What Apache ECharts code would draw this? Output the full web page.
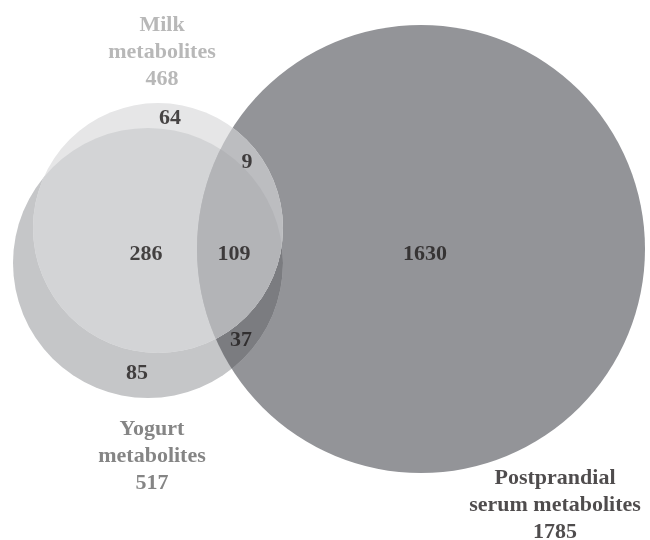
<!DOCTYPE html>
<html><head><meta charset="utf-8">
<script src="https://cdn.jsdelivr.net/npm/echarts@6/dist/echarts.min.js"></script>
<style>html,body{margin:0;padding:0;background:#fff}#c{width:650px;height:540px}</style>
</head><body><div id="c"></div>
<script>
// ---- data ----
const setNames = ['Milk metabolites', 'Yogurt metabolites', 'Postprandial serum metabolites'];
const setLabelLines = [['Milk', 'metabolites'], ['Yogurt', 'metabolites'], ['Postprandial', 'serum metabolites']];
const setTotals = [468, 517, 1785];
// regions (index into sets: 0 milk, 1 yogurt, 2 serum), drawn in this order
const regionMembers = [[2], [1], [1, 2], [0], [0, 1], [0, 2], [0, 1, 2]];
const regionCounts = [1630, 85, 37, 64, 286, 9, 109];

// ---- layout (data units of the hidden axes) ----
const circleX = [158, 148, 421];
const circleY = [228, 263, 249];
const circleR = [125, 135, 224];
const regionLabelX = [425, 137, 241, 170, 146, 247, 234];
const regionLabelY = [254, 373, 340, 118, 254, 162, 254];
const setLabelX = [162, 152, 555];
const setLabelY = [52, 456, 505];

// ---- style ----
const regionColors = ['#939498', '#c5c6c8', '#7b7c80', '#e6e6e7', '#d3d4d6', '#bcbdc0', '#b3b4b7'];
const setLabelColors = ['#a6a6a6', '#666666', '#231f20'];
const FONT = '"Liberation Serif", "Times New Roman", serif';

const chart = echarts.init(document.getElementById('c'), null, {renderer: 'canvas'});

function circleShape(api, k) {
  const c = api.coord([circleX[k], circleY[k]]);
  const r = api.size([circleR[k], 0])[0];
  return {type: 'circle', shape: {cx: c[0], cy: c[1], r: r}};
}

chart.setOption({
  animation: false,
  grid: {left: 0, right: 0, top: 0, bottom: 0},
  xAxis: {type: 'value', min: 0, max: 650, show: false},
  yAxis: {type: 'value', min: 0, max: 540, inverse: true, show: false},
  series: [
    {
      type: 'custom',
      silent: true,
      clip: false,
      data: regionMembers.map((m, i) => [circleX[m[0]], circleY[m[0]], regionCounts[i]]),
      encode: {x: 0, y: 1},
      renderItem: function (params, api) {
        const i = params.dataIndex;
        const mem = regionMembers[i];
        let el = circleShape(api, mem[0]);
        el.style = {fill: regionColors[i]};
        if (mem.length > 1) el.clipPath = circleShape(api, mem[1]);
        if (mem.length > 2) {
          el = {type: 'group', clipPath: circleShape(api, mem[2]), children: [el]};
        }
        return el;
      }
    },
    {
      type: 'scatter',
      silent: true,
      symbolSize: 0,
      itemStyle: {color: 'transparent'},
      data: regionCounts.map((v, i) => ({value: [regionLabelX[i], regionLabelY[i]], count: v})),
      label: {
        show: true,
        position: 'inside',
        formatter: p => String(p.data.count),
        fontFamily: FONT,
        fontWeight: 'bold',
        fontSize: 22,
        color: '#1f1b1c',
        textBorderWidth: 0,
        textBorderColor: 'transparent'
      }
    },
    {
      type: 'scatter',
      silent: true,
      symbolSize: 0,
      itemStyle: {color: 'transparent'},
      data: setNames.map((n, i) => ({
        name: n,
        value: [setLabelX[i], setLabelY[i]],
        label: {color: setLabelColors[i]}
      })),
      label: {
        show: true,
        position: 'inside',
        align: 'center',
        verticalAlign: 'middle',
        formatter: p => setLabelLines[p.dataIndex].join('\n') + '\n' + setTotals[p.dataIndex],
        fontFamily: FONT,
        fontWeight: 'bold',
        fontSize: 22,
        lineHeight: 27,
        textBorderWidth: 0,
        textBorderColor: 'transparent'
      }
    }
  ]
});
</script>
</body></html>
